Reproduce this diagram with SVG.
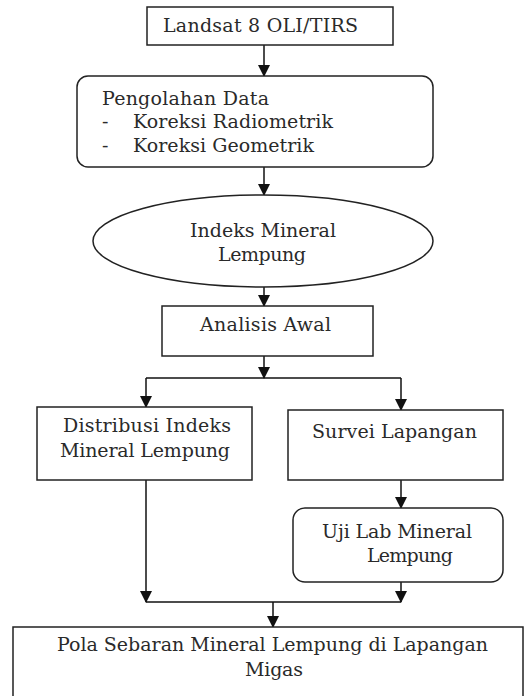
<svg xmlns="http://www.w3.org/2000/svg" width="526" height="696" viewBox="0 0 526 696">
<defs>
<marker id="ah" markerWidth="12" markerHeight="12" viewBox="0 0 12 12" refX="11" refY="6" orient="auto" markerUnits="userSpaceOnUse">
<path d="M0,0 L12,6 L0,12 Z" fill="#111"/>
</marker>
<style>
.box{fill:#fff;stroke:#222;stroke-width:1.5}
.t{font-family:"DejaVu Serif","Liberation Serif",serif;font-size:19px;fill:#2a2a2a}
.c{text-anchor:middle}
.ln{fill:none;stroke:#111;stroke-width:1.5}
</style>
</defs>
<rect width="526" height="696" fill="#fff"/>
<g id="connectors">
<path class="ln" d="M264,45 V76" marker-end="url(#ah)"/>
<path class="ln" d="M264,167 V195" marker-end="url(#ah)"/>
<path class="ln" d="M264,287 V306" marker-end="url(#ah)"/>
<path class="ln" d="M264,356 V378" marker-end="url(#ah)"/>
<path class="ln" d="M146,378 H401"/>
<path class="ln" d="M146,378 V407" marker-end="url(#ah)"/>
<path class="ln" d="M401,378 V410" marker-end="url(#ah)"/>
<path class="ln" d="M401,480 V508" marker-end="url(#ah)"/>
<path class="ln" d="M146,480 V602" marker-end="url(#ah)"/>
<path class="ln" d="M401,582 V602" marker-end="url(#ah)"/>
<path class="ln" d="M146,602 H401"/>
<path class="ln" d="M273,602 V627" marker-end="url(#ah)"/>
</g>
<g id="landsat">
<rect class="box" x="147" y="7" width="246" height="38"/>
<text class="t c" x="260.5" y="32" textLength="195">Landsat 8 OLI/TIRS</text>
</g>
<g id="pengolahan">
<rect class="box" x="77" y="76" width="356" height="91" rx="11"/>
<text class="t" x="102" y="105" textLength="167">Pengolahan Data</text>
<text class="t" x="102" y="128">-</text>
<text class="t" x="133" y="128" textLength="200">Koreksi Radiometrik</text>
<text class="t" x="102" y="152">-</text>
<text class="t" x="133" y="152" textLength="181">Koreksi Geometrik</text>
</g>
<g id="indeks">
<ellipse class="box" cx="263" cy="241" rx="170" ry="46"/>
<text class="t c" x="263" y="237" textLength="146">Indeks Mineral</text>
<text class="t c" x="262" y="261" textLength="88">Lempung</text>
</g>
<g id="analisis">
<rect class="box" x="162" y="306" width="211" height="50"/>
<text class="t c" x="265.5" y="331" textLength="131">Analisis Awal</text>
</g>
<g id="distribusi">
<rect class="box" x="37" y="407" width="215" height="73"/>
<text class="t c" x="147" y="432" textLength="168">Distribusi Indeks</text>
<text class="t c" x="145" y="457" textLength="170">Mineral Lempung</text>
</g>
<g id="survei">
<rect class="box" x="288" y="410" width="215" height="70"/>
<text class="t c" x="394.5" y="438" textLength="165">Survei Lapangan</text>
</g>
<g id="ujilab">
<rect class="box" x="293" y="508" width="210" height="74" rx="12"/>
<text class="t c" x="397" y="538" textLength="150">Uji Lab Mineral</text>
<text class="t c" x="410" y="562" textLength="86">Lempung</text>
</g>
<g id="pola">
<rect class="box" x="13" y="627" width="510" height="80"/>
<text class="t c" x="272.5" y="651" textLength="431">Pola Sebaran Mineral Lempung di Lapangan</text>
<text class="t c" x="274" y="676" textLength="58">Migas</text>
</g>
</svg>
